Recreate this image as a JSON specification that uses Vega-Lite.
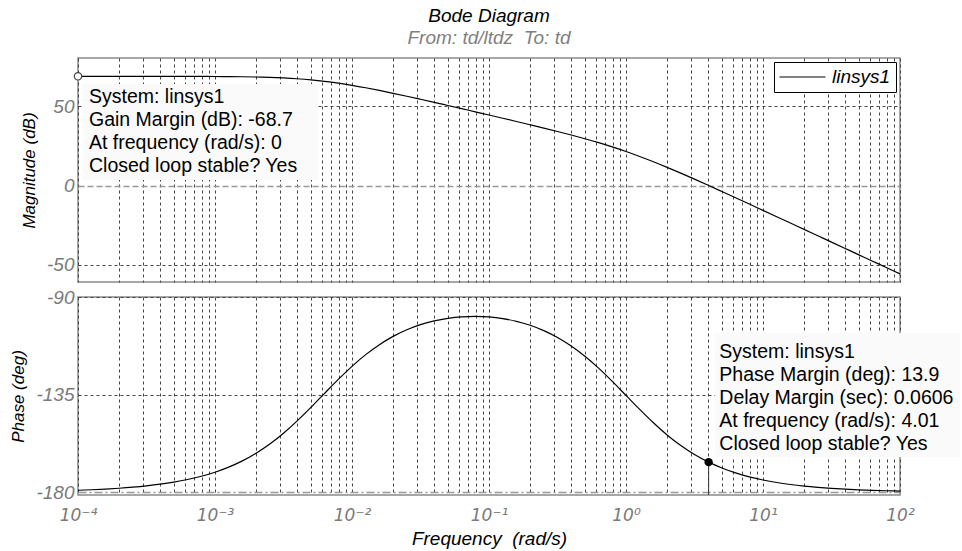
{
  "$schema": "https://vega.github.io/schema/vega-lite/v6.json",
  "padding": {"left": 9, "top": 6, "right": 0, "bottom": 0},
  "background": "white",
  "spacing": 4,
  "config": {
    "font": "Liberation Sans",
    "view": {"stroke": "#8a8a8a", "strokeWidth": 1.5},
    "axis": {
      "labelFont": "Liberation Sans",
      "titleFont": "Liberation Sans",
      "labelFontStyle": "italic",
      "labelColor": "#7a7a7a",
      "titleFontStyle": "italic",
      "titleFontWeight": "normal",
      "titleColor": "black",
      "ticks": false,
      "tickSize": 0,
      "domain": false,
      "labelOverlap": false,
      "labelBound": false,
      "labelFlush": false
    }
  },
  "datasets": {
    "bode": [
      {"w": 0.0001, "mag": 68.69, "phase": -179.06},
      {"w": 0.00012589, "mag": 68.69, "phase": -178.82},
      {"w": 0.00015849, "mag": 68.69, "phase": -178.51},
      {"w": 0.00019953, "mag": 68.69, "phase": -178.13},
      {"w": 0.00025119, "mag": 68.68, "phase": -177.64},
      {"w": 0.00031623, "mag": 68.68, "phase": -177.03},
      {"w": 0.00039811, "mag": 68.67, "phase": -176.27},
      {"w": 0.00050119, "mag": 68.66, "phase": -175.30},
      {"w": 0.00063096, "mag": 68.64, "phase": -174.09},
      {"w": 0.00079433, "mag": 68.62, "phase": -172.62},
      {"w": 0.001, "mag": 68.57, "phase": -170.75},
      {"w": 0.0012589, "mag": 68.51, "phase": -168.41},
      {"w": 0.0015849, "mag": 68.41, "phase": -165.52},
      {"w": 0.0019953, "mag": 68.25, "phase": -161.99},
      {"w": 0.0025119, "mag": 68.01, "phase": -157.75},
      {"w": 0.0031623, "mag": 67.66, "phase": -152.77},
      {"w": 0.0039811, "mag": 67.15, "phase": -147.10},
      {"w": 0.0050119, "mag": 66.45, "phase": -140.88},
      {"w": 0.0063096, "mag": 65.53, "phase": -134.38},
      {"w": 0.0079433, "mag": 64.38, "phase": -127.97},
      {"w": 0.01, "mag": 63.02, "phase": -121.95},
      {"w": 0.012589, "mag": 61.48, "phase": -116.57},
      {"w": 0.015849, "mag": 59.79, "phase": -111.96},
      {"w": 0.019953, "mag": 58.00, "phase": -108.14},
      {"w": 0.025119, "mag": 56.14, "phase": -105.09},
      {"w": 0.031623, "mag": 54.23, "phase": -102.73},
      {"w": 0.039811, "mag": 52.29, "phase": -100.99},
      {"w": 0.050119, "mag": 50.32, "phase": -99.81},
      {"w": 0.063096, "mag": 48.34, "phase": -99.13},
      {"w": 0.079433, "mag": 46.34, "phase": -98.93},
      {"w": 0.1, "mag": 44.34, "phase": -99.20},
      {"w": 0.12589, "mag": 42.32, "phase": -99.95},
      {"w": 0.15849, "mag": 40.28, "phase": -101.21},
      {"w": 0.19953, "mag": 38.22, "phase": -103.03},
      {"w": 0.25119, "mag": 36.13, "phase": -105.49},
      {"w": 0.31623, "mag": 33.98, "phase": -108.65},
      {"w": 0.39811, "mag": 31.75, "phase": -112.58},
      {"w": 0.50119, "mag": 29.42, "phase": -117.32},
      {"w": 0.63096, "mag": 26.94, "phase": -122.80},
      {"w": 0.79433, "mag": 24.27, "phase": -128.90},
      {"w": 1, "mag": 21.38, "phase": -135.35},
      {"w": 1.2589, "mag": 18.27, "phase": -141.82},
      {"w": 1.5849, "mag": 14.94, "phase": -147.97},
      {"w": 1.9953, "mag": 11.42, "phase": -153.56},
      {"w": 2.5119, "mag": 7.76, "phase": -158.43},
      {"w": 3.1623, "mag": 3.98, "phase": -162.56},
      {"w": 3.9811, "mag": 0.13, "phase": -165.99},
      {"w": 5.0119, "mag": -3.78, "phase": -168.79},
      {"w": 6.3096, "mag": -7.71, "phase": -171.06},
      {"w": 7.9433, "mag": -11.67, "phase": -172.86},
      {"w": 10, "mag": -15.65, "phase": -174.32},
      {"w": 12.589, "mag": -19.63, "phase": -175.49},
      {"w": 15.849, "mag": -23.62, "phase": -176.41},
      {"w": 19.953, "mag": -27.62, "phase": -177.15},
      {"w": 25.119, "mag": -31.61, "phase": -177.73},
      {"w": 31.623, "mag": -35.61, "phase": -178.20},
      {"w": 39.811, "mag": -39.61, "phase": -178.57},
      {"w": 50.119, "mag": -43.61, "phase": -178.87},
      {"w": 63.096, "mag": -47.61, "phase": -179.10},
      {"w": 79.433, "mag": -51.61, "phase": -179.28},
      {"w": 100, "mag": -55.61, "phase": -179.43}
    ],
    "notesTop": [
      {"x": 0.0001203, "y": 55.7, "t": "System: linsys1"},
      {"x": 0.0001203, "y": 41.2, "t": "Gain Margin (dB): -68.7"},
      {"x": 0.0001203, "y": 26.7, "t": "At frequency (rad/s): 0"},
      {"x": 0.0001203, "y": 12.3, "t": "Closed loop stable? Yes"}
    ],
    "notesBottom": [
      {"x": 4.8, "y": -115.2, "t": "System: linsys1"},
      {"x": 4.8, "y": -125.8, "t": "Phase Margin (deg): 13.9"},
      {"x": 4.8, "y": -136.4, "t": "Delay Margin (sec): 0.0606"},
      {"x": 4.8, "y": -147.0, "t": "At frequency (rad/s): 4.01"},
      {"x": 4.8, "y": -157.6, "t": "Closed loop stable? Yes"}
    ]
  },
  "vconcat": [
    {
      "width": 822,
      "height": 224,
      "title": {
        "text": "Bode Diagram",
        "subtitle": "From: td/ltdz\u00a0 To: td",
        "anchor": "middle",
        "fontSize": 19,
        "fontStyle": "italic",
        "fontWeight": "normal",
        "color": "black",
        "subtitleFontSize": 19,
        "subtitleFontStyle": "italic",
        "subtitleColor": "#808080",
        "subtitlePadding": 3,
        "offset": 10
      },
      "layer": [
        {
          "data": {"values": [{"x1": 0.0001087, "x2": 0.00565, "y1": 3.5, "y2": 63.8}]},
          "mark": {"type": "rect", "fill": "#fafafa"},
          "encoding": {
            "x": {
              "field": "x1", "type": "quantitative",
              "scale": {"type": "log", "domain": [0.0001, 100], "nice": false},
              "axis": {
                "values": [0.0001,0.0002,0.0003,0.0004,0.0005,0.0006,0.0007,0.0008,0.0009,0.001,0.002,0.003,0.004,0.005,0.006,0.007,0.008,0.009,0.01,0.02,0.03,0.04,0.05,0.06,0.07,0.08,0.09,0.1,0.2,0.3,0.4,0.5,0.6,0.7,0.8,0.9,1,2,3,4,5,6,7,8,9,10,20,30,40,50,60,70,80,90,100],
                "labels": false, "title": null, "grid": true,
                "gridDash": [3, 3], "gridColor": "#444444", "gridWidth": 1
              }
            },
            "x2": {"field": "x2"},
            "y": {
              "field": "y1", "type": "quantitative",
              "scale": {"domain": [-60.7, 80.2], "nice": false, "zero": false},
              "axis": {
                "values": [-50, 0, 50],
                "title": "Magnitude (dB)",
                "titleFontSize": 17,
                "titlePadding": 8,
                "labelFontSize": 19,
                "labelPadding": 4,
                "labelExpr": "'' + datum.value",
                "grid": true,
                "gridDash": {"condition": {"test": "datum.value === 0", "value": [6, 3]}, "value": [3, 3]},
                "gridColor": {"condition": {"test": "datum.value === 0", "value": "#999999"}, "value": "#444444"},
                "gridWidth": {"condition": {"test": "datum.value === 0", "value": 1.5}, "value": 1}
              }
            },
            "y2": {"field": "y2"}
          }
        },
        {
          "data": {"name": "bode"},
          "mark": {"type": "line", "strokeWidth": 1.2, "interpolate": "monotone"},
          "encoding": {
            "x": {"field": "w", "type": "quantitative"},
            "y": {"field": "mag", "type": "quantitative"},
            "stroke": {
              "datum": "linsys1", "type": "nominal",
              "scale": {"range": ["black"]},
              "legend": {
                "orient": "top-right",
                "offset": 4,
                "title": null,
                "symbolType": "M-1,0H3.84",
                "symbolSize": 361,
                "symbolStrokeWidth": 1,
                "symbolStrokeColor": "black",
                "labelFontSize": 19,
                "labelFontStyle": "italic",
                "labelColor": "black",
                "labelOffset": 33,
                "strokeColor": "black",
                "fillColor": "white",
                "padding": 5
              }
            }
          }
        },
        {
          "data": {"values": [{"w": 0.0001, "mag": 68.69}]},
          "mark": {"type": "point", "shape": "circle", "size": 55, "filled": true, "fill": "white", "stroke": "#444444", "strokeWidth": 1.2, "opacity": 1},
          "encoding": {
            "x": {"field": "w", "type": "quantitative"},
            "y": {"field": "mag", "type": "quantitative"}
          }
        },
        {
          "data": {"name": "notesTop"},
          "mark": {"type": "text", "align": "left", "baseline": "middle", "fontSize": 19.5, "color": "black"},
          "encoding": {
            "x": {"field": "x", "type": "quantitative"},
            "y": {"field": "y", "type": "quantitative"},
            "text": {"field": "t"}
          }
        }
      ]
    },
    {
      "width": 822,
      "height": 198,
      "layer": [
        {
          "data": {"values": [{"x1": 4.47, "x2": 274, "y1": -163.7, "y2": -106.6}]},
          "mark": {"type": "rect", "fill": "#fafafa"},
          "encoding": {
            "x": {
              "field": "x1", "type": "quantitative",
              "scale": {"type": "log", "domain": [0.0001, 100], "nice": false},
              "axis": {
                "values": [0.0001,0.0002,0.0003,0.0004,0.0005,0.0006,0.0007,0.0008,0.0009,0.001,0.002,0.003,0.004,0.005,0.006,0.007,0.008,0.009,0.01,0.02,0.03,0.04,0.05,0.06,0.07,0.08,0.09,0.1,0.2,0.3,0.4,0.5,0.6,0.7,0.8,0.9,1,2,3,4,5,6,7,8,9,10,20,30,40,50,60,70,80,90,100],
                "labelExpr": "datum.value == 0.0001 ? '10⁻⁴' : datum.value == 0.001 ? '10⁻³' : datum.value == 0.01 ? '10⁻²' : datum.value == 0.1 ? '10⁻¹' : datum.value == 1 ? '10⁰' : datum.value == 10 ? '10¹' : datum.value == 100 ? '10²' : ''",
                "labelFont": "DejaVu Sans",
                "labelFontSize": 17,
                "labelPadding": 12,
                "title": "Frequency\u00a0 (rad/s)",
                "titleFontSize": 19,
                "titlePadding": 6,
                "grid": true,
                "gridDash": [3, 3], "gridColor": "#444444", "gridWidth": 1
              }
            },
            "x2": {"field": "x2"},
            "y": {
              "field": "y1", "type": "quantitative",
              "scale": {"domain": [-181.25, -90], "nice": false, "zero": false},
              "axis": {
                "values": [-180, -135, -90],
                "title": "Phase (deg)",
                "titleFontSize": 17,
                "titlePadding": 8,
                "labelFontSize": 19,
                "labelPadding": 4,
                "labelExpr": "'' + datum.value",
                "grid": true,
                "gridDash": {"condition": {"test": "datum.value === -180", "value": [8, 3, 2, 3]}, "value": [3, 3]},
                "gridColor": {"condition": {"test": "datum.value === -180", "value": "#999999"}, "value": "#444444"},
                "gridWidth": {"condition": {"test": "datum.value === -180", "value": 1.5}, "value": 1}
              }
            },
            "y2": {"field": "y2"}
          }
        },
        {
          "data": {"name": "bode"},
          "mark": {"type": "line", "strokeWidth": 1.2, "color": "black", "interpolate": "monotone"},
          "encoding": {
            "x": {"field": "w", "type": "quantitative"},
            "y": {"field": "phase", "type": "quantitative"}
          }
        },
        {
          "data": {"values": [{"w": 4.01, "p1": -166.1, "p2": -181.25}]},
          "mark": {"type": "rule", "color": "#333333", "strokeWidth": 1},
          "encoding": {
            "x": {"field": "w", "type": "quantitative"},
            "y": {"field": "p1", "type": "quantitative"},
            "y2": {"field": "p2"}
          }
        },
        {
          "data": {"values": [{"w": 4.01, "phase": -166.1}]},
          "mark": {"type": "point", "shape": "circle", "size": 70, "filled": true, "color": "black", "opacity": 1},
          "encoding": {
            "x": {"field": "w", "type": "quantitative"},
            "y": {"field": "phase", "type": "quantitative"}
          }
        },
        {
          "data": {"name": "notesBottom"},
          "mark": {"type": "text", "align": "left", "baseline": "middle", "fontSize": 19.5, "color": "black"},
          "encoding": {
            "x": {"field": "x", "type": "quantitative"},
            "y": {"field": "y", "type": "quantitative"},
            "text": {"field": "t"}
          }
        }
      ]
    }
  ]
}
